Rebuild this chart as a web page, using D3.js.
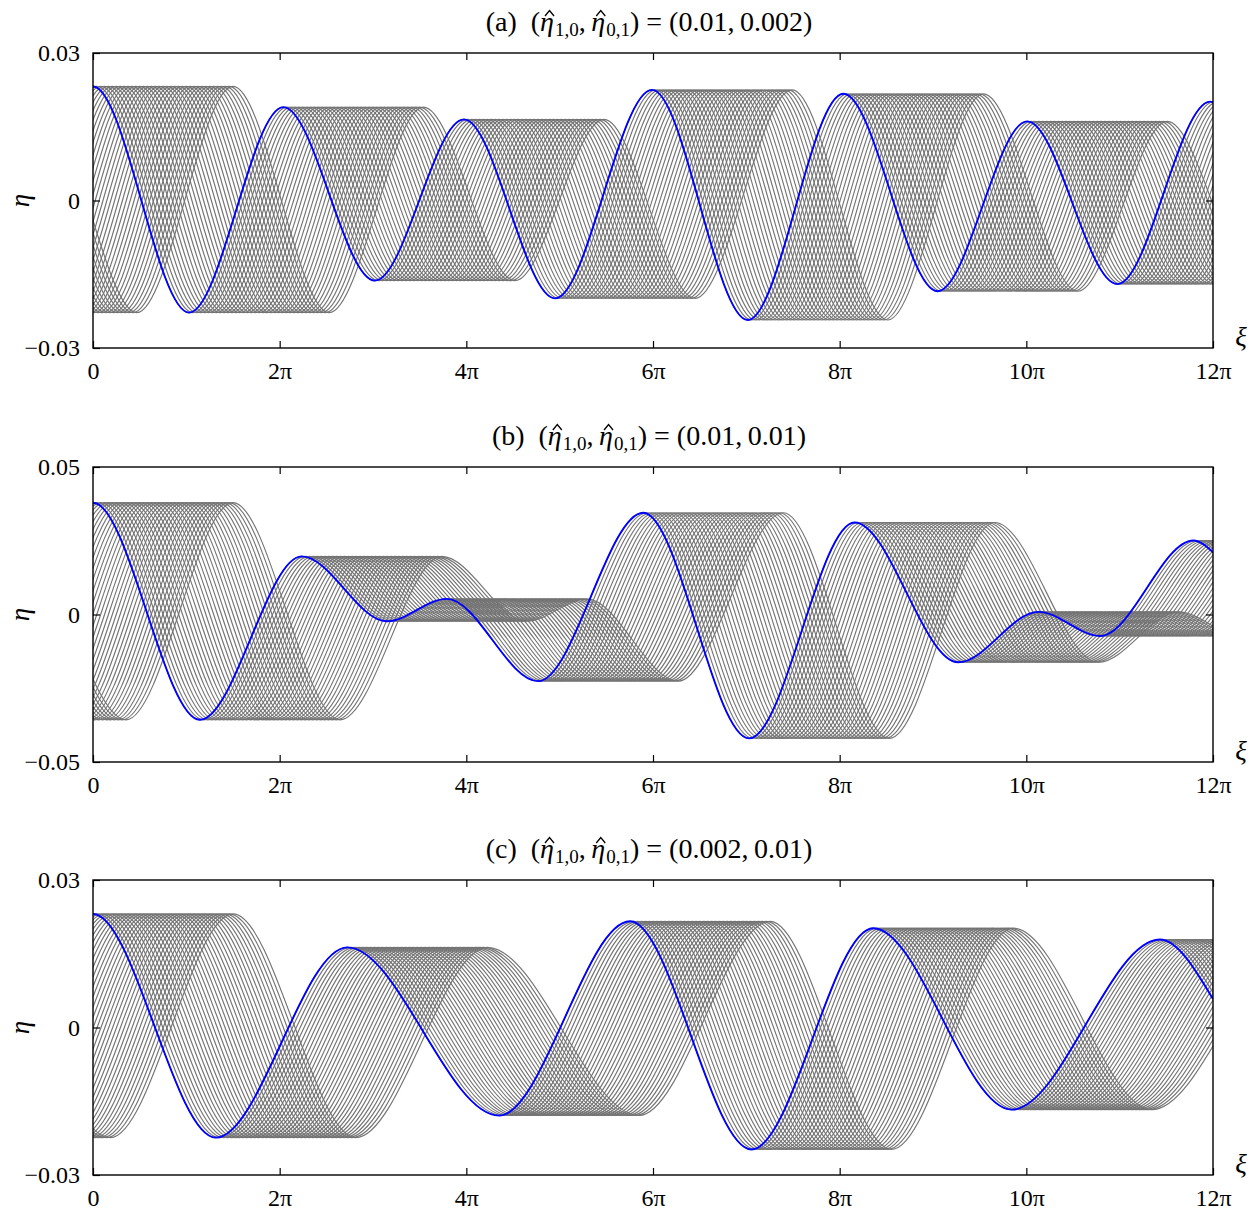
<!DOCTYPE html>
<html>
<head>
<meta charset="utf-8">
<script src="https://cdn.jsdelivr.net/npm/d3@7"></script>
<style>
  body{margin:0;background:#fff;}
  text{font-family:"Liberation Serif","DejaVu Serif",serif;}
</style>
</head>
<body>
<svg id="chart" width="1256" height="1216"></svg>
<script>
// xi in units of pi (extrema + ends); negative side mirrors the even profile
const xiA=[-3.02,-2.04,-1.03,0,1.03,2.04,3.02,3.975,4.95,5.99,7.015,8.04,9.05,10.01,10.975,11.97,12];
const etaA=[-0.0163,0.019,-0.0228,0.0232,-0.0228,0.019,-0.0163,0.0165,-0.0199,0.0225,-0.0243,0.0217,-0.01845,0.0161,-0.017,0.0201,0.02];

const xiB=[-3.147,-2.236,-1.146,0,1.146,2.236,3.147,3.79,4.77,5.896,7.03,8.16,9.27,10.13,10.79,11.79,12];
const etaB=[-0.0023,0.0197,-0.0357,0.0379,-0.0357,0.0197,-0.0023,0.0053,-0.0226,0.0345,-0.042,0.0312,-0.0162,0.0009,-0.0073,0.0251,0.0211];

const xiC=[-4.35,-2.725,-1.315,0,1.315,2.725,4.35,5.754,7.057,8.36,9.843,11.43,12];
const etaC=[-0.0179,0.0163,-0.0224,0.0231,-0.0224,0.0163,-0.0179,0.0216,-0.0248,0.0202,-0.0167,0.0179,0.0058];

const panelTags=["(a)","(b)","(c)"];
const paramA=["0.01","0.002"], paramB=["0.01","0.01"], paramC=["0.002","0.01"];
const yLimits=[0.03,0.05,0.03];
const yTickLabels=[["\u22120.03","0","0.03"],["\u22120.05","0","0.05"],["\u22120.03","0","0.03"]];
const xTicks=[0,2,4,6,8,10,12];
const xTickLabels=["0","2\u03c0","4\u03c0","6\u03c0","8\u03c0","10\u03c0","12\u03c0"];
const maxShift=1.5;   // copies travel over 1.5 pi
const nCopies=36;

const svg=d3.select("#chart");
const left=93,right=1213,ph=295;
const tops=[53,467,880];
const panels=[
  {xi:xiA,eta:etaA,p:paramA},
  {xi:xiB,eta:etaB,p:paramB},
  {xi:xiC,eta:etaC,p:paramC}
];

const x=d3.scaleLinear().domain([0,12]).range([left,right]);
const shifts=d3.range(nCopies+1).map(k=>k*maxShift/nCopies);

panels.forEach((pn,i)=>{
  const top=tops[i],bot=top+ph,lim=yLimits[i];
  const y=d3.scaleLinear().domain([-lim,lim]).range([bot,top]);
  const pts=pn.xi.map((v,j)=>[v,pn.eta[j]]);
  const g=svg.append("g");

  g.append("clipPath").attr("id","clip"+i)
    .append("rect").attr("x",left).attr("y",top).attr("width",right-left).attr("height",ph);

  const plot=g.append("g").attr("clip-path",`url(#clip${i})`);
  const line=s=>d3.line().x(d=>x(d[0]+s)).y(d=>y(d[1])).curve(d3.curveMonotoneX)(pts);

  plot.selectAll(".copy")
    .data(shifts)
    .join("path")
    .attr("class","copy")
    .attr("d",s=>line(s))
    .attr("fill","none")
    .attr("stroke","#747474")
    .attr("stroke-width",1.15);

  plot.append("path")
    .attr("d",line(0))
    .attr("fill","none")
    .attr("stroke","#0000ff")
    .attr("stroke-width",1.9);

  // frame + inward ticks
  g.append("rect").attr("x",left).attr("y",top).attr("width",right-left).attr("height",ph)
    .attr("fill","none").attr("stroke","#000").attr("stroke-width",1.4);

  g.append("g").attr("transform",`translate(0,${bot})`)
    .call(d3.axisBottom(x).tickValues(xTicks).tickSizeInner(-7).tickSizeOuter(0).tickPadding(14)
      .tickFormat((d,k)=>xTickLabels[k]))
    .call(a=>a.select(".domain").remove());
  g.append("g").attr("transform",`translate(0,${top})`)
    .call(d3.axisTop(x).tickValues(xTicks).tickSizeInner(-7).tickSizeOuter(0).tickFormat(""))
    .call(a=>a.select(".domain").remove());
  g.append("g").attr("transform",`translate(${left},0)`)
    .call(d3.axisLeft(y).tickValues([-lim,0,lim]).tickSizeInner(-7).tickSizeOuter(0).tickPadding(13)
      .tickFormat((d,k)=>yTickLabels[i][k]))
    .call(a=>a.select(".domain").remove());
  g.append("g").attr("transform",`translate(${right},0)`)
    .call(d3.axisRight(y).tickValues([0]).tickSizeInner(-7).tickSizeOuter(0).tickFormat(""))
    .call(a=>a.select(".domain").remove());

  g.selectAll(".tick line").attr("stroke","#000").attr("stroke-width",1.2);
  g.selectAll(".tick text").attr("font-size",24).attr("fill","#000")
    .style("font-family","'Liberation Serif',serif");

  g.append("text")
    .attr("transform",`translate(29,${y(0)}) rotate(-90)`)
    .attr("text-anchor","middle")
    .attr("font-size",27).attr("font-style","italic")
    .text("\u03b7");
  g.append("text")
    .attr("x",1241).attr("y",bot-2)
    .attr("text-anchor","middle")
    .attr("font-size",27).attr("font-style","italic")
    .text("\u03be");

  const base=top-22;
  const t=g.append("text")
    .attr("x",(left+right)/2-4)
    .attr("y",base)
    .attr("text-anchor","middle")
    .attr("font-size",28);
  t.append("tspan").text(panelTags[i]+"\u2002(");
  t.append("tspan").attr("font-style","italic").text("\u03b7");
  t.append("tspan").attr("font-size",19).attr("dx",1).attr("dy",5).text("1,0");
  t.append("tspan").attr("dy",-5).text(",\u2009");
  t.append("tspan").attr("font-style","italic").text("\u03b7");
  t.append("tspan").attr("font-size",19).attr("dx",1).attr("dy",5).text("0,1");
  t.append("tspan").attr("dy",-5).text(`) = (${pn.p[0]},\u2009${pn.p[1]})`);

  // hats over the two etas, drawn as small carets
  [5,11].forEach(ci=>{
    const r=t.node().getExtentOfChar(ci);
    const cx=r.x+r.width/2+2.5;
    g.append("path")
      .attr("d",`M${cx-4.5},${base-15}L${cx},${base-20.5}L${cx+4.5},${base-15}`)
      .attr("fill","none").attr("stroke","#000").attr("stroke-width",1.3);
  });
});
</script>
</body>
</html>
